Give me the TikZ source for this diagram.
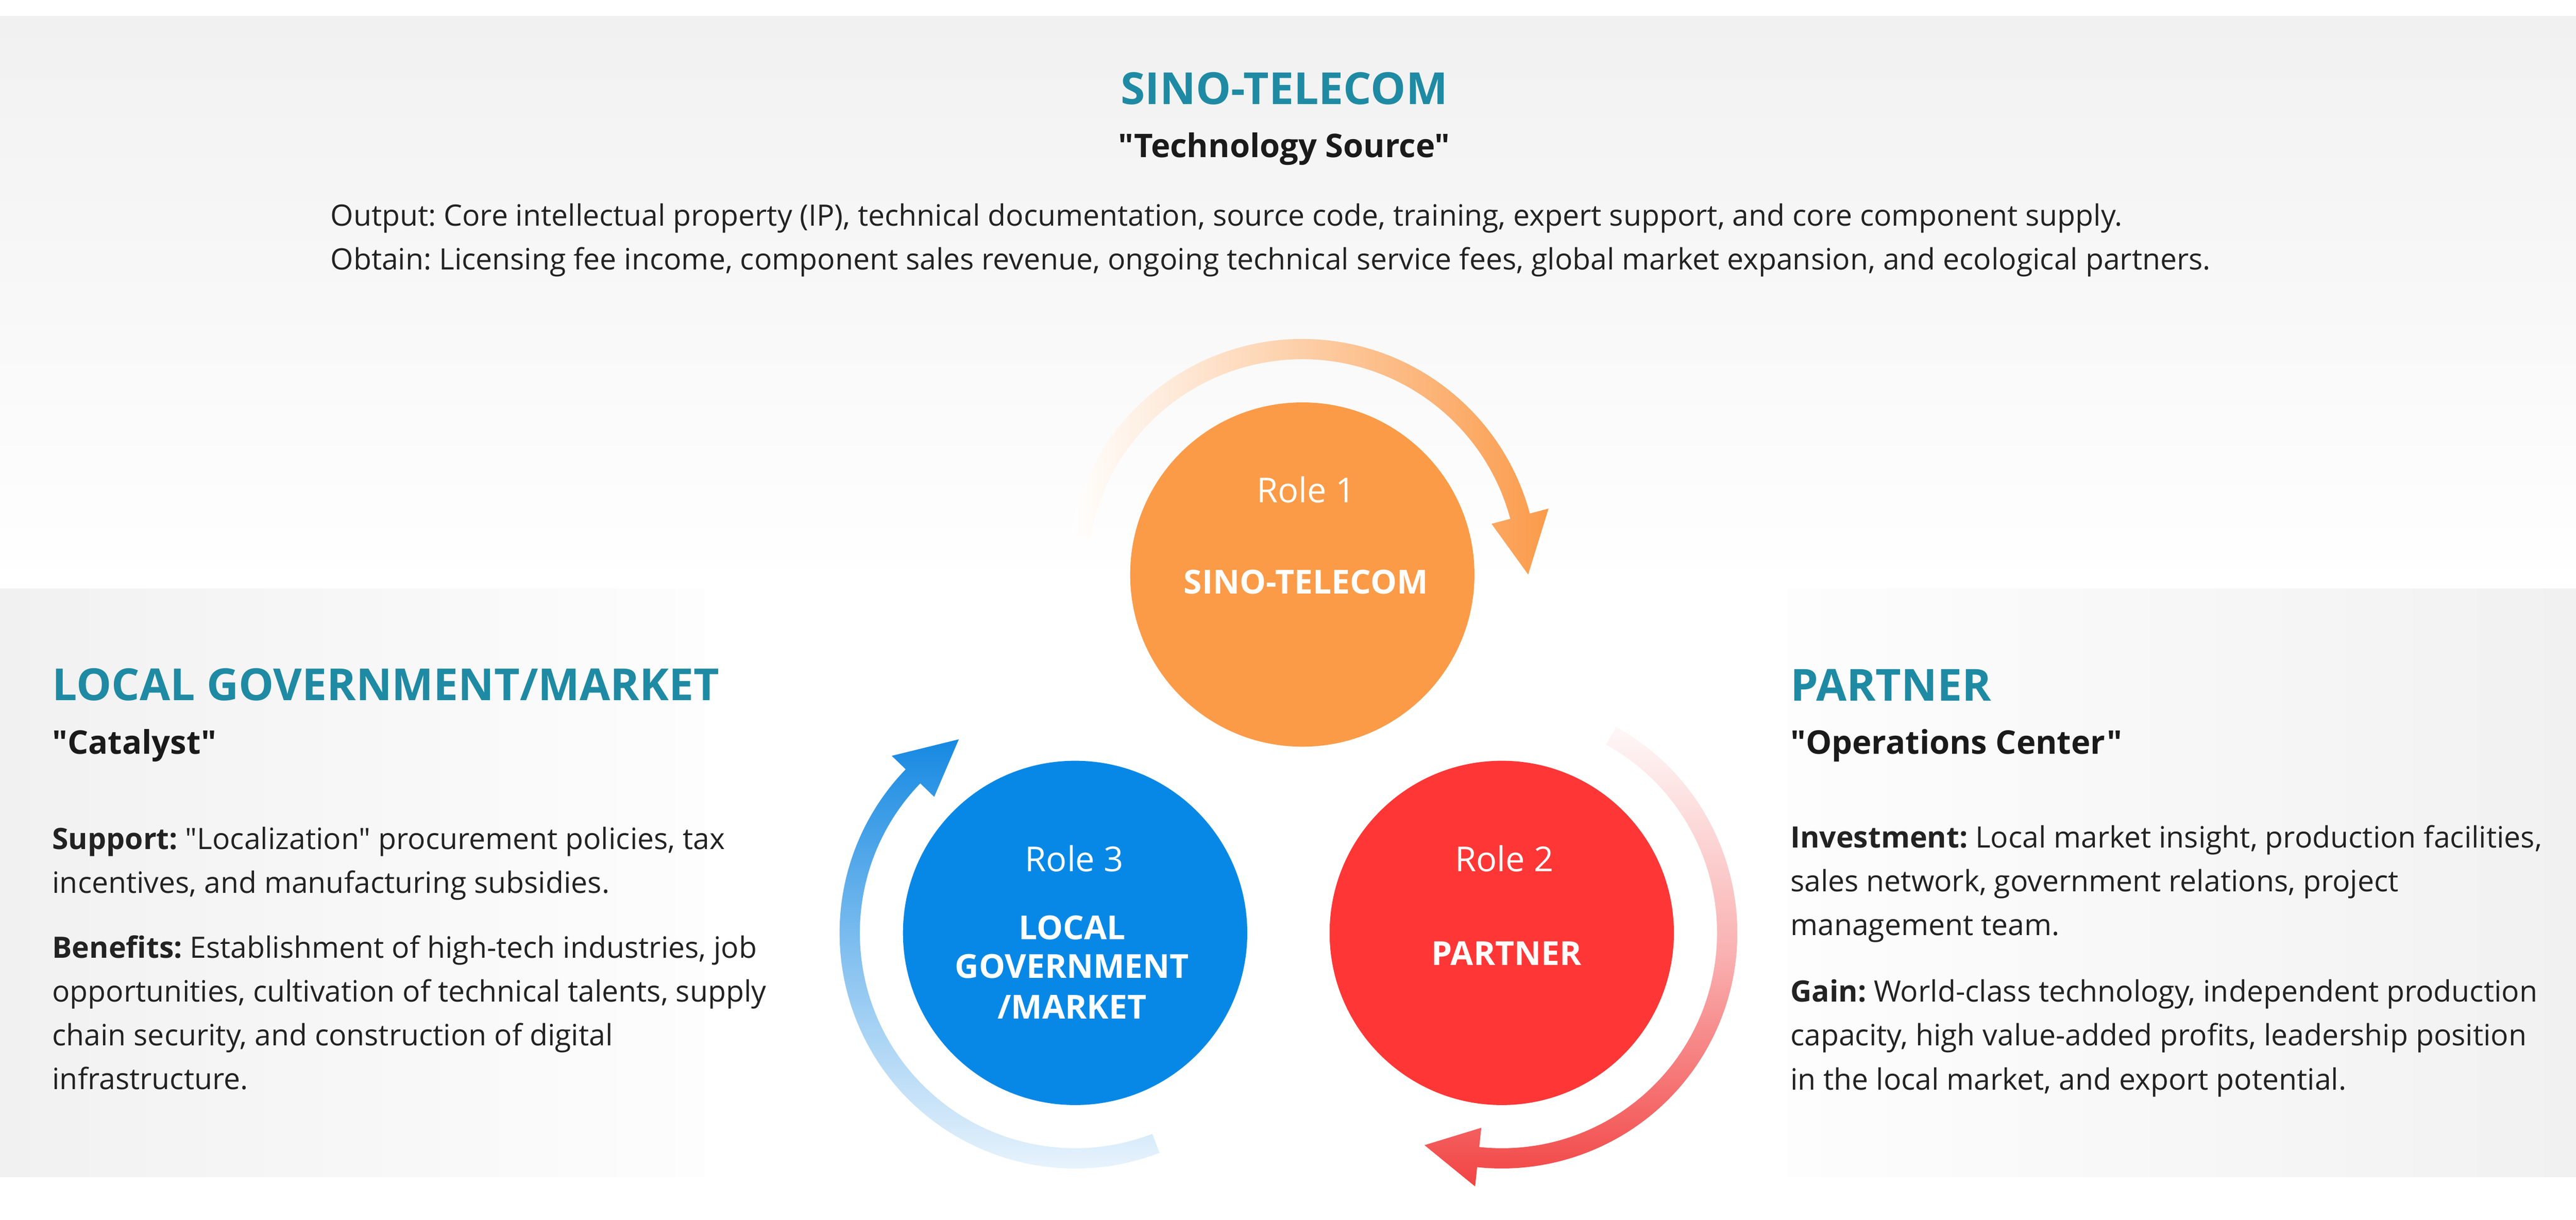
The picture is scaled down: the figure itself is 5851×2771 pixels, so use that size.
\documentclass[tikz,border=0pt]{standalone}
\usepackage{fontspec}
\setmainfont{Open Sans}[Ligatures=TeXOff]
\definecolor{headteal}{HTML}{1F8AA3}
\definecolor{txtdark}{HTML}{1A1A1A}
\definecolor{txtbody}{HTML}{222222}
\definecolor{panelgray}{HTML}{F1F1F1}
\definecolor{panellight}{HTML}{FDFDFD}
\definecolor{orgcirc}{HTML}{FB9B48}
\definecolor{redcirc}{HTML}{FF3636}
\definecolor{bluecirc}{HTML}{0888E6}
\definecolor{orgarc}{HTML}{FB9B4B}
\definecolor{redarc}{HTML}{F24343}
\definecolor{bluearc}{HTML}{1689E2}
\newcommand{\cyclearrow}[5]{%
  \begin{scope}[shift={(#1.center)}]
    \shade[#5] (#2:535) arc[start angle=#2,end angle=#3,radius=535]
      -- (#3:579) -- (#4:513) -- (#3:445) -- (#3:489)
      arc[start angle=#3,end angle=#2,radius=489] -- cycle;
  \end{scope}}
\tikzset{
  sechead/.style={text=headteal, font=\fontsize{25.1pt}{30pt}\selectfont\bfseries, inner sep=0pt},
  subhead/.style={text=txtdark, font=\fontsize{18.5pt}{22pt}\selectfont\bfseries, inner sep=0pt},
  bodyline/.style={text=txtbody, font=\fontsize{16.7pt}{20pt}\selectfont\frenchspacing, inner sep=0pt, anchor=base west},
  rolecircle/.style={circle, minimum size=195.5pt, inner sep=0pt},
  roletxt/.style={text=white, font=\fontsize{19.5pt}{23pt}\selectfont, inner sep=0pt, anchor=base},
  rolename/.style={text=white, font=\fontsize{18.75pt}{22.5pt}\selectfont\bfseries, inner sep=0pt, anchor=base},
}
\begin{document}
\begin{tikzpicture}[x=0.25pt,y=0.25pt]
\useasboundingbox (0,0) rectangle (5851,2771);
\fill[white] (0,0) rectangle (5851,2771);
% panels
\shade[top color=panelgray, bottom color=white] (0,1434) rectangle (5851,2734);
\shade[left color=panelgray, right color=panellight] (0,98) rectangle (1600,1434);
\shade[left color=panellight, right color=panelgray] (4060,98) rectangle (5851,1434);

% circles (nodes)
\node[rolecircle, fill=orgcirc] (c1) at (2958,1466) {};
\node[rolecircle, fill=redcirc] (c2) at (3411,652) {};
\node[rolecircle, fill=bluecirc] (c3) at (2442,652) {};

% cycle arrows around the circles
\cyclearrow{c1}{170}{15}{0}{left color=white, right color=orgarc}
\cyclearrow{c2}{61}{-96}{-110}{top color=redarc!4!white, bottom color=redarc, middle color=redarc!42!white}
\cyclearrow{c3}{291}{136}{121}{bottom color=bluearc!4!white, top color=bluearc, middle color=bluearc!50!white}

% circle labels
\node[roletxt] (r1) at (2966,1629) {Role 1};
\node[rolename] (n1) at (2966,1422) {SINO-TELECOM};
\node[roletxt] (r2) at (3417,792) {Role 2};
\node[rolename] (n2) at (3422,579) {PARTNER};
\node[roletxt] (r3) at (2440,792) {Role 3};
\node[rolename] (n3a) at (2435,637) {LOCAL};
\node[rolename] (n3b) at (2435,549) {GOVERNMENT};
\node[rolename] (n3c) at (2435,457) {/MARKET};

% top section
\node[sechead, anchor=base] (th) at (2917,2534) {SINO-TELECOM};
\node[subhead, anchor=base] (ts) at (2917,2413) {"Technology Source"};
\node[bodyline] (to) at (750,2258) {Output: Core intellectual property (IP), technical documentation, source code, training, expert support, and core component supply.};
\node[bodyline] (tb) at (750,2158) {Obtain: Licensing fee income, component sales revenue, ongoing technical service fees, global market expansion, and ecological partners.};

% left section
\node[sechead, anchor=base west] (lh) at (118,1180) {LOCAL GOVERNMENT/MARKET};
\node[subhead, anchor=base west] (ls) at (118,1058) {"Catalyst"};
\node[bodyline] (l1) at (118,842) {\textbf{Support:} "Localization" procurement policies, tax};
\node[bodyline] (l2) at (118,743) {incentives, and manufacturing subsidies.};
\node[bodyline] (l3) at (118,595) {\textbf{Benefits:} Establishment of high-tech industries, job};
\node[bodyline] (l4) at (118,496) {opportunities, cultivation of technical talents, supply};
\node[bodyline] (l5) at (118,396) {chain security, and construction of digital};
\node[bodyline] (l6) at (118,297) {infrastructure.};

% right section
\node[sechead, anchor=base west] (rh) at (4066,1179) {PARTNER};
\node[subhead, anchor=base west] (rs) at (4066,1058) {"Operations Center"};
\node[bodyline] (p1) at (4066,845) {\textbf{Investment:} Local market insight, production facilities,};
\node[bodyline] (p2) at (4066,746) {sales network, government relations, project};
\node[bodyline] (p3) at (4066,646) {management team.};
\node[bodyline] (p4) at (4066,495) {\textbf{Gain:} World-class technology, independent production};
\node[bodyline] (p5) at (4066,396) {capacity, high value-added profits, leadership position};
\node[bodyline] (p6) at (4066,296) {in the local market, and export potential.};
\end{tikzpicture}
\end{document}
